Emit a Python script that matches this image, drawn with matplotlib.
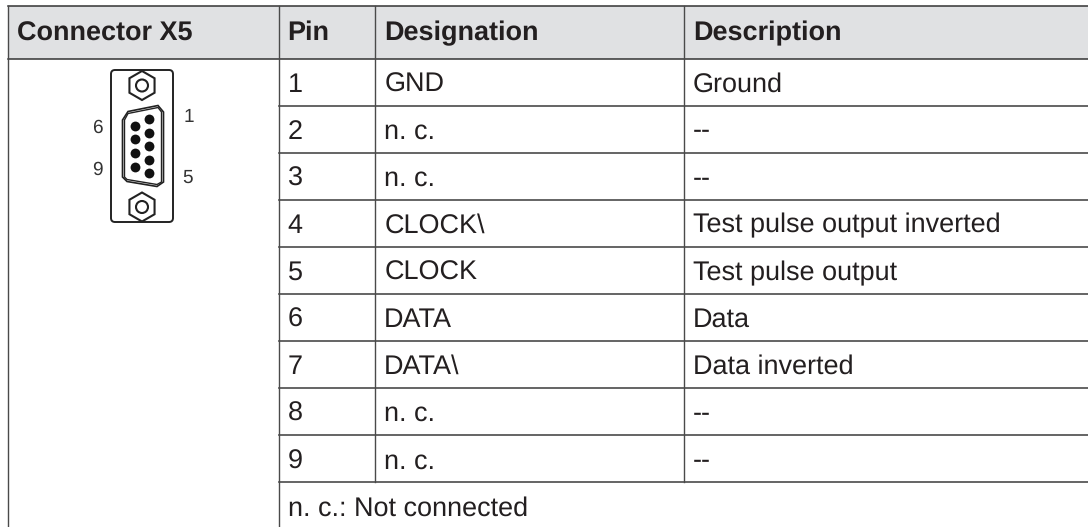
import matplotlib
matplotlib.use("Agg")
import matplotlib.pyplot as plt
from matplotlib.patches import FancyBboxPatch, PathPatch, Polygon, Circle, Rectangle
from matplotlib.path import Path
import numpy as np

# table content
headers = ["Connector X5", "Pin", "Designation", "Description"]
pins = ["1", "2", "3", "4", "5", "6", "7", "8", "9"]
designations = ["GND", "n. c.", "n. c.", "CLOCK\\", "CLOCK", "DATA", "DATA\\", "n. c.", "n. c."]
descriptions = ["Ground", "--", "--", "Test pulse output inverted", "Test pulse output",
                "Data", "Data inverted", "--", "--"]
footnote = "n. c.: Not connected"

plt.rcParams['font.family'] = ['Liberation Sans', 'DejaVu Sans']
plt.rcParams['text.hinting'] = 'no_hinting'
plt.rcParams['text.hinting_factor'] = 1
TXT = "#231f20"
LINE = "#4a4a4a"
FS_HEAD = 19.3
FS_BODY = 19.1

fig = plt.figure(figsize=(10.88, 5.27), dpi=100)
ax = fig.add_axes([0, 0, 1, 1])
ax.set_xlim(0, 1088)
ax.set_ylim(527, 0)
ax.axis("off")

col_x = [8.3, 278.5, 375.2, 684, 1088]
row_y = [58.5 + 47.1 * i for i in range(10)]

# header
ax.add_patch(Rectangle((col_x[0], 5.5), 1088 - col_x[0], 53, fc="#e0e1e3", ec="none"))
ax.plot([8, 1088], [5.5, 5.5], color="#333333", lw=1.1)
ax.plot([8, 1088], [58.5, 58.5], color="#333333", lw=1.1)
for i, h in enumerate(headers):
    ax.text(col_x[i] + 9, 40.5, h, fontsize=FS_HEAD, fontweight="bold", color=TXT, va="baseline", ha="left")

# grid
ax.plot([col_x[0]] * 2, [5.5, 527], color=LINE, lw=1.0)
ax.plot([col_x[1]] * 2, [5.5, 527], color=LINE, lw=1.0)
for x in col_x[2:4]:
    ax.plot([x, x], [5.5, row_y[9]], color=LINE, lw=1.0)
for y in row_y[1:]:
    ax.plot([col_x[1], 1088], [y, y], color=LINE, lw=1.2)

# rows
for i in range(9):
    yb = row_y[i] + 33
    ax.text(col_x[1] + 9, yb, pins[i], fontsize=FS_BODY, color=TXT, va="baseline")
    ax.text(col_x[2] + 9, yb, designations[i], fontsize=FS_BODY, color=TXT, va="baseline")
    ax.text(col_x[3] + 9, yb, descriptions[i], fontsize=FS_BODY, color=TXT, va="baseline")
ax.text(col_x[1] + 9, 515.7, footnote, fontsize=FS_BODY, color=TXT, va="baseline")

# connector flange
ax.add_patch(FancyBboxPatch((114, 73), 56, 146, boxstyle="round,pad=3,rounding_size=4",
                            fc="white", ec="#222222", lw=1.4))

# screws
for cy in [85.5, 207]:
    ang = np.deg2rad(np.arange(0, 360, 60))
    ax.add_patch(Polygon(np.c_[142 + 14.5 * np.sin(ang), cy + 14.5 * np.cos(ang)],
                         closed=True, fc="white", ec="#222222", lw=1.5))
    ax.add_patch(Circle((142, cy), 6, fc="white", ec="#222222", lw=1.5))


def shell(dx):
    pts = [(124 - dx, 120), (124 - dx, 177), (127, 180 + dx), (157, 185 + dx), (162 + dx, 182),
           (162 + dx, 112), (158, 107 - dx), (128, 113 - dx)]
    codes = [Path.MOVETO] + [Path.LINETO] * (len(pts) - 1) + [Path.CLOSEPOLY]
    return Path(pts + [pts[0]], codes)


ax.add_patch(PathPatch(shell(1.5), fc="white", ec="#222222", lw=1.2))
ax.add_patch(PathPatch(shell(-0.5), fc="white", ec="#222222", lw=1.0))

# pins of the connector
pin_right_y = [119, 133, 146, 160, 173]
pin_left_y = [125.5, 139, 153, 166.5]
ax.scatter([149] * 5, pin_right_y, s=50, color="#111111", lw=0, zorder=3)
ax.scatter([135] * 4, pin_left_y, s=50, color="#111111", lw=0, zorder=3)

# pin numbers next to the connector
for x, y, s in [(189, 122, "1"), (188, 183.3, "5"), (97, 133, "6"), (97, 175, "9")]:
    ax.text(x, y, s, fontsize=14, color="#333333", ha="center", va="baseline")

fig.savefig("out.png", dpi=100)
